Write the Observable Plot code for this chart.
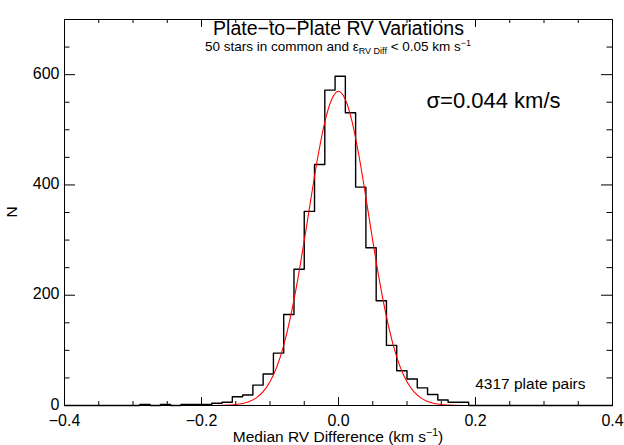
<!DOCTYPE html>
<html><head><meta charset="utf-8">
<script src="https://cdn.jsdelivr.net/npm/d3@7"></script>
<script src="https://cdn.jsdelivr.net/npm/@observablehq/plot@0.6"></script>
<style>body{margin:0;background:#fff;}</style>
</head><body><div id="chart"></div>
<script>
// Histogram: left edge of each bin (km/s) and counts
const binStart = [-0.290,-0.275,-0.260,-0.245,-0.230,-0.215,-0.200,-0.185,-0.170,-0.155,-0.140,-0.125,-0.110,-0.095,-0.080,-0.065,-0.050,-0.035,-0.020,-0.005,0.010,0.025,0.040,0.055,0.070,0.085,0.100,0.115,0.130,0.145,0.160,0.175];
const binCount = [2,0,2,0,2,2,2,4,6,16,19,37,57,95,165,247,352,437,572,597,531,396,286,190,109,63,48,32,20,10,6,6];
const histEnd = 0.190;
// Gaussian fit curve
const fitX = [-0.40,-0.20,-0.18,-0.16,-0.15,-0.14,-0.13,-0.12,-0.11,-0.10,-0.09,-0.08,-0.07,-0.06,-0.05,-0.04,-0.03,-0.02,-0.01,0.00,0.01,0.02,0.03,0.04,0.05,0.06,0.07,0.08,0.09,0.10,0.11,0.12,0.13,0.14,0.15,0.16,0.18,0.20,0.40];
const fitN = [0,0,0.1,0.8,1.7,3.6,7.3,13.8,25,43,70,109,161,225,299,377,452,514,555,570,555,514,452,377,299,225,161,109,70,43,25,13.8,7.3,3.6,1.7,0.8,0.1,0,0];
// Axes
const xMajorTicks = [-0.4,-0.2,0,0.2,0.4];
const xMinorTicks = [-0.35,-0.3,-0.25,-0.15,-0.1,-0.05,0.05,0.1,0.15,0.25,0.3,0.35];
const yMajorTicks = [0,200,400,600];
const yMinorTicks = [50,100,150,250,300,350,450,500,550,650];
const xDomain = [-0.4,0.4];
const yDomain = [0,700];
// Texts
const titleText = "Plate\u2212to\u2212Plate RV Variations";
const subtitleParts = ["50 stars in common and \u03B5", "RV Diff", " < 0.05 km s", "\u22121"];
const xLabelParts = ["Median RV Difference (km s", "\u22121", ")"];
const yLabel = "N";
const sigmaLabel = "\u03C3=0.044 km/s";
const pairsLabel = "4317 plate pairs";

const W = 624, H = 445, mL = 64, mR = 12, mT = 19, mB = 40;
const fw = W - mL - mR, fh = H - mT - mB;

const steps = [{x: xDomain[0], n: 0}]
  .concat(binStart.map((x, i) => ({x, n: binCount[i]})))
  .concat([{x: histEnd, n: 0}, {x: xDomain[1], n: 0}]);
const fit = fitX.map((x, i) => ({x, n: fitN[i]}));

const plot = Plot.plot({
  width: W, height: H,
  marginLeft: mL, marginRight: mR, marginTop: mT, marginBottom: mB,
  style: {fontFamily: "'Liberation Sans', Arial, Helvetica, sans-serif", fontSize: "16px", color: "black", background: "white"},
  x: {domain: xDomain},
  y: {domain: yDomain},
  marks: [
    Plot.axisX({ticks: xMajorTicks, tickSize: 0, tickPadding: 9, tickFormat: d3.format(".1f"), label: null, fontSize: 16}),
    Plot.axisY({ticks: yMajorTicks, tickSize: 0, tickPadding: 5, tickFormat: d3.format("d"), label: null, fontSize: 16, dy: -1}),
    // inward ticks on all four sides
    Plot.ruleX(xMajorTicks, {x: d => d, insetTop: fh - 8, stroke: "black"}),
    Plot.ruleX(xMajorTicks, {x: d => d, insetBottom: fh - 8, stroke: "black"}),
    Plot.ruleX(xMinorTicks, {x: d => d, insetTop: fh - 4, stroke: "black"}),
    Plot.ruleX(xMinorTicks, {x: d => d, insetBottom: fh - 4, stroke: "black"}),
    Plot.ruleY(yMajorTicks, {y: d => d, insetRight: fw - 11, stroke: "black"}),
    Plot.ruleY(yMajorTicks, {y: d => d, insetLeft: fw - 11, stroke: "black"}),
    Plot.ruleY(yMinorTicks, {y: d => d, insetRight: fw - 5.5, stroke: "black"}),
    Plot.ruleY(yMinorTicks, {y: d => d, insetLeft: fw - 5.5, stroke: "black"}),
    Plot.line(steps, {x: "x", y: "n", curve: "step-after", stroke: "black", strokeWidth: 1.4}),
    Plot.line(fit, {x: "x", y: "n", curve: "monotone-x", stroke: "#ff0000", strokeWidth: 1.1}),
    Plot.frame({stroke: "black", strokeWidth: 1}),
    Plot.text([titleText], {text: d => d, frameAnchor: "top", dy: 2, fontSize: 19.5, fill: "black"}),
    Plot.text([sigmaLabel], {text: d => d, frameAnchor: "top-right", dx: -52, dy: 73, fontSize: 22, fill: "black"}),
    Plot.text([pairsLabel], {text: d => d, frameAnchor: "bottom-right", dx: -27, dy: -17, fontSize: 15.5, fill: "black"})
  ]
});

const svg = d3.select(plot);
const cx = mL + fw / 2;
// subtitle with sub/superscripts
const st = svg.append("text").attr("x", cx).attr("y", mT + 32).attr("text-anchor", "middle")
  .attr("font-size", 13.5).attr("fill", "black");
st.append("tspan").text(subtitleParts[0]);
st.append("tspan").attr("font-size", 9).attr("dy", 3).text(subtitleParts[1]);
st.append("tspan").attr("dy", -3).text(subtitleParts[2]);
st.append("tspan").attr("font-size", 9).attr("dy", -5).text(subtitleParts[3]);
// x axis label
const xl = svg.append("text").attr("x", cx).attr("y", H - 3).attr("text-anchor", "middle")
  .attr("font-size", 15.5).attr("fill", "black");
xl.append("tspan").text(xLabelParts[0]);
xl.append("tspan").attr("font-size", 10.5).attr("dy", -6).text(xLabelParts[1]);
xl.append("tspan").attr("dy", 6).text(xLabelParts[2]);
// y axis label
svg.append("text").attr("transform", `translate(17,${mT + fh / 2}) rotate(-90)`)
  .attr("text-anchor", "middle").attr("font-size", 15.5).attr("fill", "black").text(yLabel);

document.getElementById("chart").appendChild(plot);
</script>
</body></html>
